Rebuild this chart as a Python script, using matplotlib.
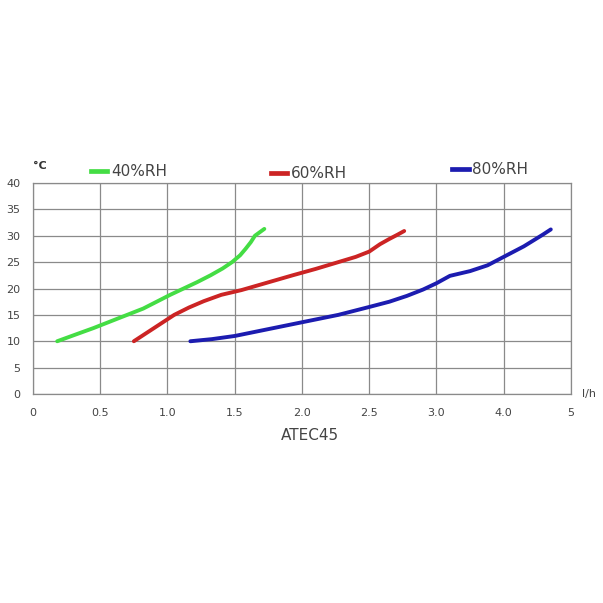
"""Recreate the ATEC45 dehumidifier capacity chart."""

import matplotlib

matplotlib.use("Agg")

import matplotlib.pyplot as plt

# x positions are on the evenly spaced grid (one gridline = 0.5), labelled below
x_tick_pos = [0, 0.5, 1.0, 1.5, 2.0, 2.5, 3.0, 3.5, 4.0]
x_tick_labels = ["0", "0.5", "1.0", "1.5", "2.0", "2.5", "3.0", "4.0", "5"]
y_ticks = [0, 5, 10, 15, 20, 25, 30, 35, 40]

rh40_x = [0.18, 0.32, 0.45, 0.58, 0.70, 0.82, 0.92, 1.02, 1.12, 1.22, 1.32, 1.41, 1.48, 1.54, 1.58, 1.62, 1.65, 1.72]
rh40_y = [10.0, 11.3, 12.5, 13.8, 15.0, 16.2, 17.5, 18.8, 20.0, 21.2, 22.5, 23.8, 25.0, 26.3, 27.5, 28.8, 30.0, 31.3]

rh60_x = [0.75, 0.90, 1.05, 1.16, 1.27, 1.40, 1.55, 1.74, 1.93, 2.10, 2.27, 2.40, 2.50, 2.58, 2.65, 2.71, 2.76]
rh60_y = [10.0, 12.5, 15.0, 16.4, 17.6, 18.8, 19.7, 21.1, 22.5, 23.7, 25.0, 26.0, 27.0, 28.4, 29.4, 30.2, 30.9]

rh80_x = [1.17, 1.33, 1.50, 1.75, 2.00, 2.27, 2.50, 2.65, 2.78, 2.90, 3.00, 3.10, 3.25, 3.38, 3.50, 3.65, 3.79, 3.85]
rh80_y = [10.0, 10.4, 11.0, 12.3, 13.6, 15.0, 16.5, 17.5, 18.6, 19.8, 21.0, 22.4, 23.3, 24.4, 26.0, 28.0, 30.2, 31.2]

series = [
    ("40%RH", rh40_x, rh40_y, "#44dd44"),
    ("60%RH", rh60_x, rh60_y, "#cc2424"),
    ("80%RH", rh80_x, rh80_y, "#1c1cb0"),
]
# legend swatch start (x) and centre line (y), as figure fractions from top-left
legend_anchor = [(0.151, 0.284), (0.449, 0.287), (0.750, 0.281)]

fig = plt.figure(figsize=(6.03, 6.03), dpi=100)
ax = fig.add_axes([0.0547, 0.3466, 0.8922, 0.3499])

for name, xs, ys, color in series:
    ax.plot(xs, ys, color=color, linewidth=2.8, solid_capstyle="round")

ax.set_xlim(0, 4)
ax.set_ylim(0, 40)
ax.set_xticks(x_tick_pos)
ax.set_xticklabels(x_tick_labels)
ax.set_yticks(y_ticks)
ax.grid(True, color="#8a8a8a", linewidth=0.9)
ax.set_axisbelow(True)
for spine in ax.spines.values():
    spine.set_color("#8a8a8a")
    spine.set_linewidth(0.9)
ax.tick_params(length=0, labelsize=8, colors="#444444", pad=10)
ax.tick_params(axis="y", pad=9)

ax.text(-0.0, 1.08, "°C", transform=ax.transAxes, fontsize=8, color="#333333",
        ha="left", va="center", fontweight="bold")
ax.text(1.02, 0.0, "l/h", transform=ax.transAxes, fontsize=8, color="#444444",
        ha="left", va="center")
fig.text(0.514, 0.277, "ATEC45", fontsize=11, color="#444444", ha="center", va="center")

for (name, xs, ys, color), (lx, ly) in zip(series, legend_anchor):
    fy = 1 - ly
    fig.add_artist(plt.Line2D([lx, lx + 0.027], [fy, fy], color=color,
                              linewidth=3.4, transform=fig.transFigure))
    fig.text(lx + 0.033, fy, name, fontsize=11, color="#444444", ha="left", va="center")

fig.savefig("out.png")
